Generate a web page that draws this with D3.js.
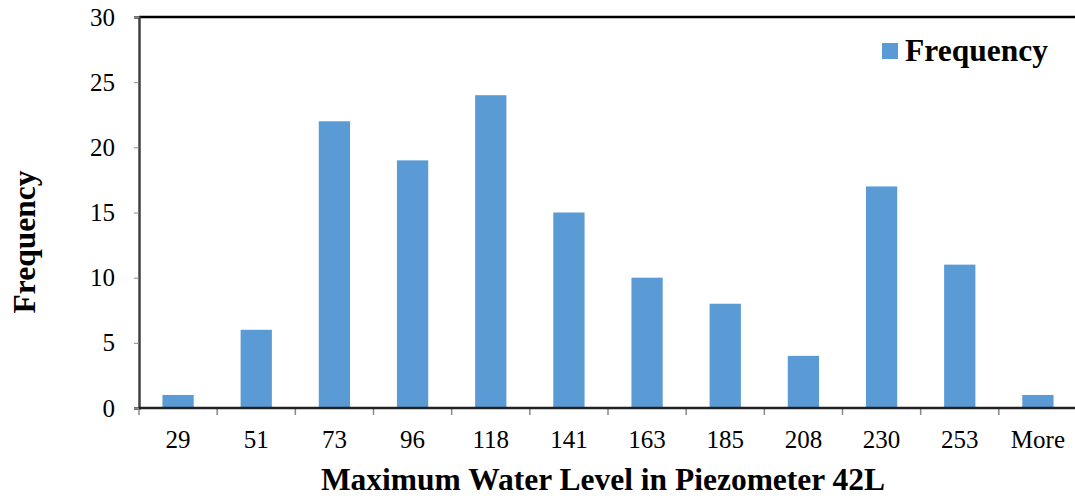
<!DOCTYPE html>
<html><head><meta charset="utf-8">
<script src="https://cdn.jsdelivr.net/npm/d3@7"></script>
<style>body{margin:0;background:#fff;} svg{display:block;}</style>
</head><body>
<script>
const categories = ["29","51","73","96","118","141","163","185","208","230","253","More"];
const frequency = [1,6,22,19,24,15,10,8,4,17,11,1];
const yTicks = [0,5,10,15,20,25,30];

const W = 1075, H = 500;
const m = {left:139, top:17, right:1077, bottom:408};
const svg = d3.select("body").append("svg").attr("width",W).attr("height",H)
  .style("font-family","'Liberation Serif','Times New Roman',serif");

const x = d3.scaleBand().domain(categories).range([m.left,m.right]).paddingInner(0.6).paddingOuter(0.3);
const xb = d3.scaleBand().domain(categories).range([m.left,m.right]);
const y = d3.scaleLinear().domain([0,30]).range([m.bottom,m.top]);

// border top/right
svg.append("line").attr("x1",m.left).attr("x2",m.right).attr("y1",m.top).attr("y2",m.top)
  .attr("stroke","#000").attr("stroke-width",2.5);
svg.append("line").attr("x1",m.right).attr("x2",m.right).attr("y1",m.top).attr("y2",m.bottom)
  .attr("stroke","#000").attr("stroke-width",2.5);

// bars
svg.append("g").selectAll("rect").data(frequency).join("rect")
  .attr("x",(d,i)=>x(categories[i]))
  .attr("width",x.bandwidth())
  .attr("y",d=>y(d))
  .attr("height",d=>y(0)-y(d))
  .attr("fill","#5B9BD5");

// y axis
const ya = svg.append("g").attr("transform",`translate(${m.left},0)`)
  .call(d3.axisLeft(y).tickValues(yTicks).tickSize(5).tickPadding(19));
ya.select(".domain").attr("stroke","#404040").attr("stroke-width",2.5);
ya.selectAll(".tick line").attr("stroke","#888");
ya.selectAll("text").attr("font-size",25).attr("fill","#000").style("font-family","'Liberation Serif',serif");

// x axis ticks at band boundaries
const boundaries = categories.map(c=>xb(c)).concat([m.right]);
svg.append("g").selectAll("line").data(boundaries).join("line")
  .attr("x1",d=>d).attr("x2",d=>d).attr("y1",m.bottom).attr("y2",m.bottom+7)
  .attr("stroke","#888").attr("stroke-width",1.5);
svg.append("line").attr("x1",m.left).attr("x2",m.right).attr("y1",m.bottom).attr("y2",m.bottom)
  .attr("stroke","#222").attr("stroke-width",2.5);
svg.append("g").selectAll("text").data(categories).join("text")
  .attr("x",d=>xb(d)+xb.bandwidth()/2).attr("y",448)
  .attr("text-anchor","middle").attr("font-size",25).attr("fill","#000").text(d=>d);

// axis titles
svg.append("text").attr("x",603).attr("y",490).attr("text-anchor","middle")
  .attr("font-size",31.5).attr("font-weight","bold").text("Maximum Water Level in Piezometer 42L");
svg.append("text").attr("transform","translate(35,242) rotate(-90)").attr("text-anchor","middle")
  .attr("font-size",31.5).attr("font-weight","bold").text("Frequency");

// legend
svg.append("rect").attr("x",882).attr("y",43).attr("width",16).attr("height",16).attr("fill","#5B9BD5");
svg.append("text").attr("x",905).attr("y",61).attr("font-size",31.5).attr("font-weight","bold").text("Frequency");
</script>
</body></html>
